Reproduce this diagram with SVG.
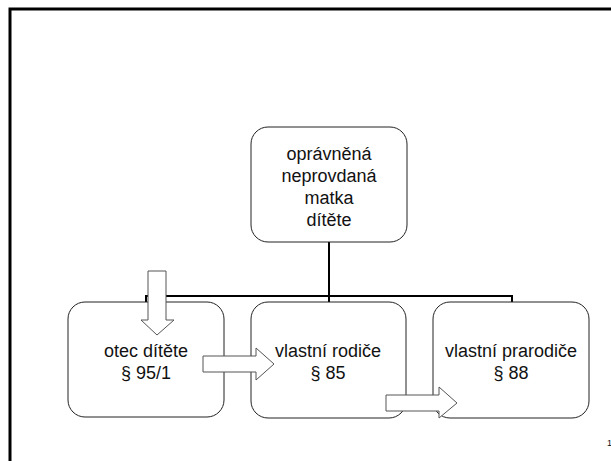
<svg xmlns="http://www.w3.org/2000/svg" width="611" height="461" viewBox="0 0 611 461">
<style>
.box{fill:#fff;stroke:#222;stroke-width:1}
.t{font-family:"Liberation Sans",Arial,sans-serif;font-size:18px;fill:#111;text-anchor:middle}
.conn{fill:none;stroke:#000;stroke-width:2}
.arr{fill:#fff;stroke:#555;stroke-width:1}
</style>
<rect width="611" height="461" fill="#fff"/>
<path d="M10,461 V9 H611" fill="none" stroke="#000" stroke-width="3"/>
<g id="connectors">
<path class="conn" d="M329,242 V296 M146,302 V296 H512 V302 M329,296 V302"/>
</g>
<g id="node-top">
<rect class="box" x="251" y="127" width="156" height="115" rx="17"/>
<text class="t" x="329" y="160">oprávněná</text>
<text class="t" x="329" y="182">neprovdaná</text>
<text class="t" x="329" y="204">matka</text>
<text class="t" x="329" y="226">dítěte</text>
</g>
<g id="node-otec">
<rect class="box" x="68" y="302" width="156" height="115" rx="17"/>
<text class="t" x="146" y="357">otec dítěte</text>
<text class="t" x="146" y="379">§ 95/1</text>
</g>
<g id="node-rodice">
<rect class="box" x="251" y="302" width="155" height="116" rx="17"/>
<text class="t" x="328" y="357">vlastní rodiče</text>
<text class="t" x="328" y="379">§ 85</text>
</g>
<g id="node-prarodice">
<rect class="box" x="433" y="302" width="156" height="116" rx="17"/>
<text class="t" x="511" y="357">vlastní prarodiče</text>
<text class="t" x="511" y="379">§ 88</text>
</g>
<g id="arrows">
<polygon class="arr" points="148,271 166,271 166,320 174,320 157,335 141,320 148,320"/>
<polygon class="arr" points="203,356 256,356 256,348 274,364 256,380 256,372 203,372"/>
<polygon class="arr" points="386,395 439,395 439,387 457,403 439,418 439,411 386,411"/>
</g>
<text x="607" y="446" font-family="Liberation Sans,Arial,sans-serif" font-size="9" fill="#111">1</text>
</svg>
